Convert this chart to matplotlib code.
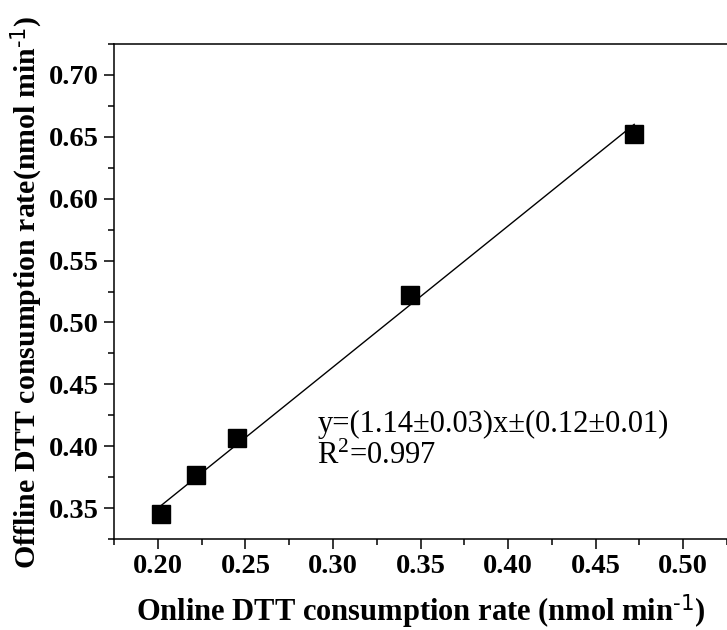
import numpy as np
import matplotlib
matplotlib.use("Agg")
import matplotlib.pyplot as plt
from matplotlib.ticker import MultipleLocator

plt.rcParams['font.family'] = ['Liberation Serif', 'DejaVu Serif']
plt.rcParams['mathtext.default'] = 'regular'

# online vs offline DTT consumption rate (nmol min-1)
online_rate = [0.202, 0.222, 0.245, 0.344, 0.472]
offline_rate = [0.345, 0.377, 0.407, 0.522, 0.652]

# linear fit as drawn
slope = 1.14
intercept = 0.122
fit_label = "y=(1.14\u00b10.03)x\u00b1(0.12\u00b10.01)\nR$^{2}$=0.997"


def main():
    fig = plt.figure(figsize=(7.27, 6.30), dpi=100)
    ax = fig.add_axes([0.157, 0.1444, 0.843, 0.7857])

    x_fit = np.array([min(online_rate), max(online_rate)])
    ax.plot(x_fit, slope * x_fit + intercept, color='black', linewidth=1.0, zorder=2)
    ax.plot(online_rate, offline_rate, linestyle='none', marker='s',
            markersize=13, color='black', zorder=3)

    ax.text(0.291, 0.4295, fit_label, fontsize=22, va='top', ha='left',
            linespacing=1.12)

    ax.set_xlim(0.175, 0.525)
    ax.set_ylim(0.325, 0.725)
    ax.xaxis.set_major_locator(MultipleLocator(0.05))
    ax.xaxis.set_minor_locator(MultipleLocator(0.025))
    ax.yaxis.set_major_locator(MultipleLocator(0.05))
    ax.yaxis.set_minor_locator(MultipleLocator(0.025))
    ax.xaxis.set_major_formatter(plt.FormatStrFormatter('%.2f'))
    ax.yaxis.set_major_formatter(plt.FormatStrFormatter('%.2f'))

    ax.spines['right'].set_visible(False)
    for s in ['left', 'top', 'bottom']:
        ax.spines[s].set_linewidth(1.1)
    ax.tick_params(which='major', direction='out', length=7, width=1.1,
                   labelsize=20.5, pad=4)
    ax.tick_params(which='minor', direction='out', length=4, width=1.1)
    ax.tick_params(top=False, right=False)
    for lab in ax.get_xticklabels() + ax.get_yticklabels():
        lab.set_fontweight('bold')

    ax.set_xlabel(r'Online DTT consumption rate (nmol min$^{\text{-1}}$)',
                  fontsize=22, fontweight='bold', labelpad=10)
    ax.set_ylabel(r'Offline DTT consumption rate(nmol min$^{\text{-1}}$)',
                  fontsize=21.5, fontweight='bold')
    ax.yaxis.set_label_coords(-0.112, 0.498)

    fig.savefig('out.png', dpi=100)


if __name__ == "__main__":
    main()
